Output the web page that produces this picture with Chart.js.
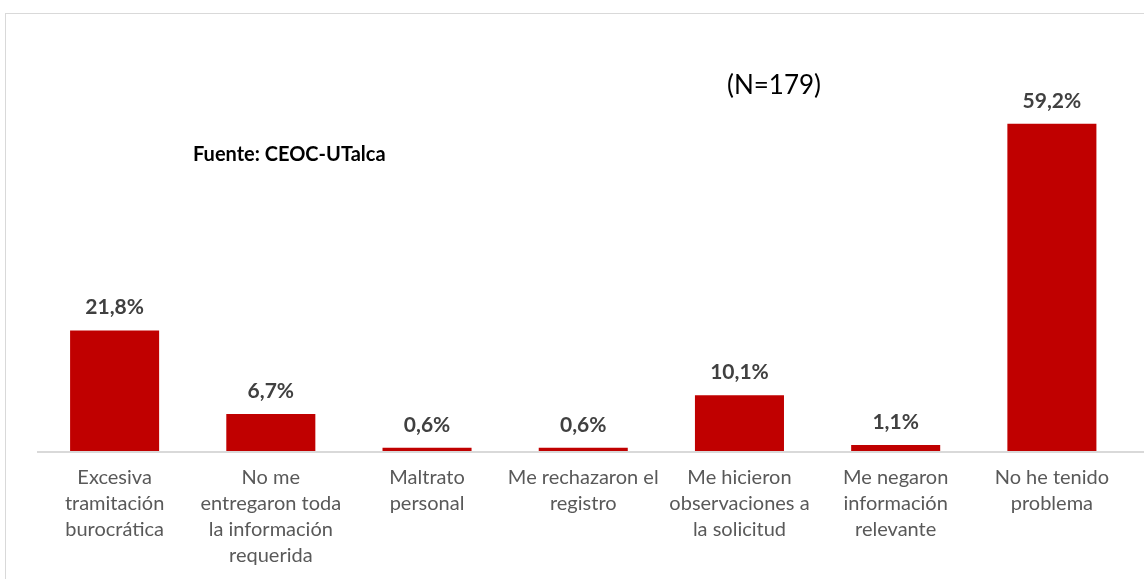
<!DOCTYPE html>
<html>
<head>
<meta charset="utf-8">
<script src="https://cdn.jsdelivr.net/npm/chart.js@4/dist/chart.umd.min.js"></script>
<style>
  html, body { margin: 0; padding: 0; background: #ffffff; overflow: hidden; }
  #wrap { position: relative; width: 1144px; height: 583px; }
</style>
</head>
<body>
<div id="wrap"><canvas id="grafico"></canvas></div>
<script>
// categorias y porcentajes
const categorias = [
  ["Excesiva", "tramitación", "burocrática"],
  ["No me", "entregaron toda", "la información", "requerida"],
  ["Maltrato", "personal"],
  ["Me rechazaron el", "registro"],
  ["Me hicieron", "observaciones a", "la solicitud"],
  ["Me negaron", "información", "relevante"],
  ["No he tenido", "problema"]
];
const porcentajes = [21.8, 6.7, 0.6, 0.6, 10.1, 1.1, 59.2];
const etiquetas = ["21,8%", "6,7%", "0,6%", "0,6%", "10,1%", "1,1%", "59,2%"];
const fuente = "Fuente: CEOC-UTalca";
const muestra = "(N=179)";

const familia = "Lato, 'Open Sans', sans-serif";

const extras = {
  id: 'extras',
  beforeDraw(chart) {
    const ctx = chart.ctx;
    ctx.save();
    // marco del grafico
    ctx.strokeStyle = '#d9d9d9';
    ctx.lineWidth = 1;
    ctx.strokeRect(5.5, 13.5, 1200, 700);
    // linea del eje
    ctx.lineWidth = 2;
    ctx.beginPath();
    ctx.moveTo(37, chart.chartArea.bottom + 1);
    ctx.lineTo(1144, chart.chartArea.bottom + 1);
    ctx.stroke();
    ctx.restore();
  },
  afterDatasetsDraw(chart) {
    const ctx = chart.ctx;
    ctx.save();
    ctx.textAlign = 'center';
    ctx.textBaseline = 'alphabetic';
    ctx.fillStyle = '#404040';
    ctx.font = "bold 21px " + familia;
    chart.getDatasetMeta(0).data.forEach((bar, i) => {
      ctx.fillText(etiquetas[i], bar.x, bar.y - 16);
    });
    ctx.textAlign = 'left';
    ctx.fillStyle = '#000000';
    ctx.font = "bold 20px " + familia;
    ctx.fillText(fuente, 193, 161);
    ctx.font = "26px " + familia;
    ctx.fillText(muestra, 727, 94);
    ctx.restore();
  }
};

new Chart(document.getElementById('grafico'), {
  type: 'bar',
  data: {
    labels: categorias,
    datasets: [{
      data: porcentajes,
      backgroundColor: '#c00000',
      categoryPercentage: 1,
      barPercentage: 0.57
    }]
  },
  options: {
    responsive: true,
    maintainAspectRatio: false,
    animation: false,
    layout: { padding: { left: 36.5, right: 14, top: 64, bottom: 0 } },
    plugins: { legend: { display: false }, tooltip: { enabled: false } },
    scales: {
      x: {
        grid: { display: false, drawTicks: false },
        border: { display: false },
        ticks: {
          color: '#595959',
          padding: 14,
          maxRotation: 0,
          autoSkip: false,
          font: { family: familia, size: 20, lineHeight: 1.3 }
        }
      },
      y: {
        display: false,
        min: 0,
        max: 70
      }
    }
  },
  plugins: [extras]
});
</script>
</body>
</html>
